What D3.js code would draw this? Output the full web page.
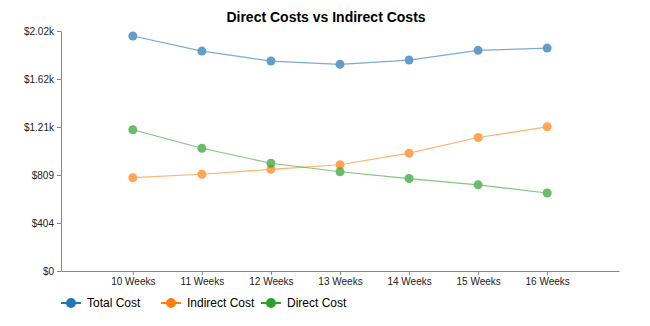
<!DOCTYPE html>
<html>
<head>
<meta charset="utf-8">
<script src="https://cdn.jsdelivr.net/npm/d3@7"></script>
<style>
  html, body { margin: 0; padding: 0; background: #fff; }
  svg { display: block; font-family: "Liberation Sans", Arial, sans-serif; }
</style>
</head>
<body>
<svg id="chart" width="650" height="326"></svg>
<script>
const categories = ["10 Weeks", "11 Weeks", "12 Weeks", "13 Weeks", "14 Weeks", "15 Weeks", "16 Weeks"];
const totalCost = [1980, 1853, 1769, 1741, 1777, 1859, 1878];
const indirectCost = [786, 815, 857, 895, 993, 1125, 1215];
const directCost = [1190, 1034, 908, 836, 779, 726, 657];
const seriesNames = ["Total Cost", "Indirect Cost", "Direct Cost"];
const seriesColors = ["#1f77b4", "#ff7f0e", "#2ca02c"];
const yMax = 2022;
const yTickValues = [0, 404.4, 808.8, 1213.2, 1617.6, 2022];
const yTickLabels = ["$0", "$404", "$809", "$1.21k", "$1.62k", "$2.02k"];
const title = "Direct Costs vs Indirect Costs";

const series = [totalCost, indirectCost, directCost];

const svg = d3.select("#chart");
const margin = {left: 61, right: 31, top: 31, bottom: 55};
const W = 650, H = 326;

const x = d3.scalePoint().domain(categories).range([margin.left, W - margin.right]).padding(1.04);
const y = d3.scaleLinear().domain([0, yMax]).range([H - margin.bottom, margin.top]);

svg.append("text")
  .attr("x", 326).attr("y", 21.5)
  .attr("text-anchor", "middle")
  .attr("font-size", 14).attr("font-weight", "bold").attr("fill", "#000")
  .text(title);

const yAxis = svg.append("g")
  .attr("transform", `translate(${margin.left},0)`)
  .call(d3.axisLeft(y).tickValues(yTickValues)
    .tickFormat((d, i) => yTickLabels[i]).tickSize(4).tickSizeOuter(0).tickPadding(3));

const xAxis = svg.append("g")
  .attr("transform", `translate(0,${H - margin.bottom})`)
  .call(d3.axisBottom(x).tickSize(4).tickSizeOuter(0).tickPadding(3));

[yAxis, xAxis].forEach(g => {
  g.selectAll("path, line").attr("stroke", "#888");
  g.selectAll("text").attr("font-size", 10).attr("fill", "#222")
    .attr("font-family", "'Liberation Sans', Arial, sans-serif");
});

const line = d3.line().x((d, i) => x(categories[i])).y(d => y(d));

series.forEach((vals, si) => {
  const g = svg.append("g").attr("opacity", 0.7);
  g.append("path").datum(vals)
    .attr("d", line).attr("fill", "none")
    .attr("stroke", seriesColors[si]).attr("stroke-width", 1.2)
    .attr("stroke-opacity", 0.85);
  g.selectAll("circle").data(vals).join("circle")
    .attr("cx", (d, i) => x(categories[i])).attr("cy", d => y(d))
    .attr("r", 4.5).attr("fill", seriesColors[si]);
});

const legend = svg.append("g").attr("transform", "translate(61,303)");
seriesNames.forEach((name, i) => {
  const g = legend.append("g").attr("transform", `translate(${i * 100},0)`);
  g.append("line").attr("x1", 0).attr("x2", 20).attr("y1", 0).attr("y2", 0)
    .attr("stroke", seriesColors[i]).attr("stroke-width", 2);
  g.append("circle").attr("cx", 10).attr("cy", 0).attr("r", 5).attr("fill", seriesColors[i]);
  g.append("text").attr("x", 26).attr("y", 0).attr("dy", "0.35em")
    .attr("font-size", 12).attr("fill", "#000").text(name);
});
</script>
</body>
</html>
